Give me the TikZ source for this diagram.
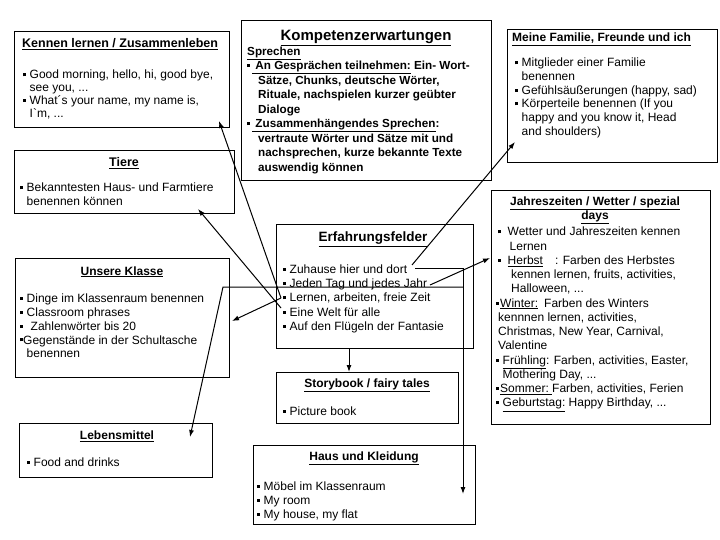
\documentclass[tikz,border=0pt]{standalone}
\usepackage{fontspec}
\setmainfont{Liberation Sans}
\usetikzlibrary{arrows.meta,positioning}

\newcommand{\bl}{\raisebox{2.6pt}{\rule{3pt}{3pt}}\hspace{3.5pt}}
\newcommand{\ind}{\hspace*{6.5pt}}

\begin{document}
\begin{tikzpicture}[
    x=1pt, y=-1pt,
    box/.style={draw, line width=0.9pt, anchor=north west, inner sep=0pt},
    head/.style={font=\fontsize{12}{13}\selectfont\bfseries, inner sep=0pt, anchor=base},
    body/.style={font=\fontsize{12}{13.5}\selectfont, align=left, anchor=north west, inner sep=0pt},
    line/.style={draw, line width=1pt, -{Latex[length=7pt,width=5pt]}}
]
    \useasboundingbox (0,0) rectangle (720,540);

    % Kennen lernen / Zusammenleben
    \node[box, minimum width=215pt, minimum height=96pt] (kennen) at (14,31) {};
    \node[head, anchor=base west, font=\fontsize{12.5}{13}\selectfont\bfseries] (kennenTitle) at (22,47.3) {\underline{Kennen lernen / Zusammenleben}};
    \node[body, font=\fontsize{12}{12.8}\selectfont] (kennenText) at (23,70) {\bl Good morning, hello, hi, good bye,\\ \ind see you, ...\\ \bl What´s your name, my name is,\\ \ind I\textasciigrave m, ...};

    % Tiere
    \node[box, minimum width=220pt, minimum height=63pt] (tiere) at (14,150) {};
    \node[head, font=\fontsize{12.5}{13}\selectfont\bfseries] (tiereTitle) at (124,166.3) {\underline{Tiere}};
    \node[body] (tiereText) at (20,183) {\bl Bekanntesten Haus- und Farmtiere\\ \ind benennen können};

    % Kompetenzerwartungen
    \node[box, minimum width=250pt, minimum height=160pt] (kompetenz) at (241,20) {};
    \node[head, font=\fontsize{15}{16}\selectfont\bfseries] (kompetenzTitle) at (366,41) {\underline{Kompetenzerwartungen}};
    \node[body, font=\fontsize{11.7}{14.5}\selectfont\bfseries] (kompetenzText) at (247,46.5) {\underline{Sprechen}\\
        \bl\hspace{-1.5pt}\underline{\ An Gesprächen teilnehmen:} Ein- Wort-\\
        \hspace*{11pt}Sätze, Chunks, deutsche Wörter,\\
        \hspace*{11pt}Rituale, nachspielen kurzer geübter\\
        \hspace*{11pt}Dialoge\\
        \bl\hspace{-1.5pt}\underline{\ Zusammenhängendes Sprechen}:\\
        \hspace*{11pt}vertraute Wörter und Sätze mit und\\
        \hspace*{11pt}nachsprechen, kurze bekannte Texte\\
        \hspace*{11pt}auswendig können};

    % Meine Familie, Freunde und ich
    \node[box, minimum width=210pt, minimum height=133pt] (familie) at (507,29) {};
    \node[head, anchor=base west] (familieTitle) at (512,42) {\underline{Meine Familie, Freunde und ich}};
    \node[body, font=\fontsize{12}{13.7}\selectfont] (familieText) at (515,58) {\bl Mitglieder einer Familie\\ \ind benennen\\ \bl Gefühlsäußerungen (happy, sad)\\ \bl Körperteile benennen (If you\\ \ind happy and you know it, Head\\ \ind and shoulders)};

    % Jahreszeiten / Wetter / spezial days
    \node[box, minimum width=219pt, minimum height=234pt] (jahr) at (491,190) {};
    \node[head, anchor=north, align=center] (jahrTitle) at (595,196.5) {\underline{Jahreszeiten / Wetter / spezial}\\ \underline{days}};
    \node[body, font=\fontsize{12}{14.25}\selectfont] (jahrText) at (496,227) {\hspace*{2pt}\bl\hspace{3pt}Wetter und Jahreszeiten kennen\\
        \hspace*{13.5pt}Lernen\\
        \hspace*{2pt}\bl\hspace{3pt}\underline{Herbst}\hspace{12pt}: Farben des Herbstes\\
        \hspace*{15pt}kennen lernen, fruits, activities,\\
        \hspace*{15pt}Halloween, ...\\
        \bl\hspace{-2.5pt}\underline{Winter:}\hspace{6pt}Farben des Winters\\
        \hspace*{2pt}kennnen lernen, activities,\\
        \hspace*{2pt}Christmas, New Year, Carnival,\\
        \hspace*{2pt}Valentine\\
        \bl\underline{Frühling}: Farben, activities, Easter,\\
        \hspace*{6.5pt}Mothering Day, ...\\
        \bl\hspace{-2.5pt}\underline{Sommer:\ }Farben, activities, Ferien\\
        \bl\underline{Geburtstag:} Happy Birthday, ...};

    % Erfahrungsfelder
    \node[box, minimum width=197pt, minimum height=124pt] (erfahrung) at (276,224) {};
    \node[head, font=\fontsize{13.5}{14}\selectfont\bfseries] (erfahrungTitle) at (373,241.5) {\underline{Erfahrungsfelder}};
    \node[body, font=\fontsize{12}{14.25}\selectfont] (erfahrungText) at (283,264.5) {\bl Zuhause hier und dort\\ \bl Jeden Tag und jedes Jahr\\ \bl Lernen, arbeiten, freie Zeit\\ \bl Eine Welt für alle\\ \bl Auf den Flügeln der Fantasie};

    % Unsere Klasse
    \node[box, minimum width=214pt, minimum height=119pt] (klasse) at (15,258) {};
    \node[head] (klasseTitle) at (122,275) {\underline{Unsere Klasse}};
    \node[body, font=\fontsize{12}{13.9}\selectfont] (klasseText) at (20,293.5) {\bl Dinge im Klassenraum benennen\\ \bl Classroom phrases\\ \bl\hspace{4pt}Zahlenwörter bis 20\\ \bl\hspace{-3.5pt}Gegenstände in der Schultasche\\ \ind benennen};

    % Storybook / fairy tales
    \node[box, minimum width=182pt, minimum height=51pt] (story) at (276,372) {};
    \node[head] (storyTitle) at (367,387.3) {\underline{Storybook / fairy tales}};
    \node[body] (storyText) at (283,406.5) {\bl Picture book};

    % Lebensmittel
    \node[box, minimum width=193pt, minimum height=54pt] (leben) at (19,423) {};
    \node[head] (lebenTitle) at (117,439.3) {\underline{Lebensmittel}};
    \node[body] (lebenText) at (27,457.5) {\bl Food and drinks};

    % Haus und Kleidung
    \node[box, minimum width=222pt, minimum height=79pt] (haus) at (253,445) {};
    \node[head] (hausTitle) at (364,460.3) {\underline{Haus und Kleidung}};
    \node[body, font=\fontsize{12}{14}\selectfont] (hausText) at (257,481.5) {\bl Möbel im Klassenraum\\ \bl My room\\ \bl My house, my flat};

    % connector ends
    \coordinate (erfHubA) at (281,298);
    \coordinate (erfHubB) at (281,308);
    \coordinate (erfRail) at (463,287);
    \coordinate (erfHome) at (415,268);
    \coordinate (erfYear) at (430,285);
    \coordinate (erfWorld) at (412,265);
    \coordinate (kennenIn) at (219,121);
    \coordinate (tiereIn) at (198,209);
    \coordinate (klasseIn) at (232,321);
    \coordinate (lebenKnee) at (223,287);
    \coordinate (lebenIn) at (190,437);
    \coordinate (familieIn) at (515,142);
    \coordinate (jahrIn) at (490,258);
    \coordinate (storyIn) at (349,372);
    \coordinate (hausKnee) at (463,268);
    \coordinate (hausIn) at (463,494);

    % arrows out of Erfahrungsfelder
    \path [line] (erfHubA) -- (kennenIn);
    \path [line] (erfHubB) -- (tiereIn);
    \path [line] (erfHubA) -- (klasseIn);
    \path [line] (erfRail) -- (lebenKnee) -- (lebenIn);
    \path [line] (erfWorld) -- (familieIn);
    \path [line] (erfYear) -- (jahrIn);
    \path [line] (storyIn |- erfahrung.south) -- (storyIn);
    \path [line] (erfHome) -- (hausKnee) -- (hausIn);

\end{tikzpicture}
\end{document}
